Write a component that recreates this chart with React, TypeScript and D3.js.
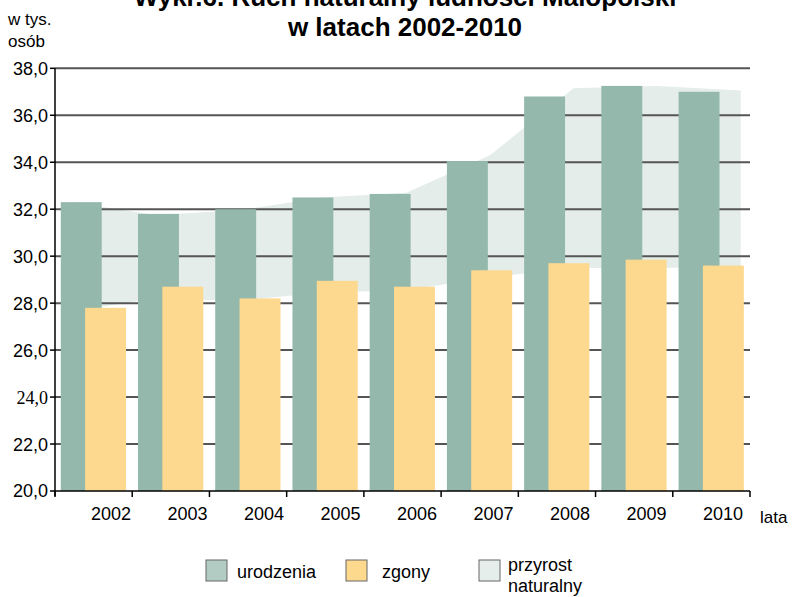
import * as d3 from 'd3'

// data (thousands of people)
const years = ['2002', '2003', '2004', '2005', '2006', '2007', '2008', '2009', '2010']
const births = [32.3, 31.8, 32.0, 32.5, 32.65, 34.05, 36.8, 37.25, 37.0]
const deaths = [27.8, 28.7, 28.2, 28.95, 28.7, 29.4, 29.7, 29.85, 29.6]
// the shaded "przyrost naturalny" band is a separate, slightly smoothed shape
const growthTop = [32.3, 31.75, 31.95, 32.5, 32.7, 34.3, 37.15, 37.25, 37.05]
const growthBottom = [27.65, 28.2, 28.1, 28.45, 28.55, 29.1, 29.5, 29.5, 29.55]
const yTickValues = [20, 22, 24, 26, 28, 30, 32, 34, 36, 38]

const legendItems = [
  { label: ['urodzenia'], fill: '#b2ccc3' },
  { label: ['zgony'], fill: '#fdd98d' },
  { label: ['przyrost', 'naturalny'], fill: '#e5eeea' },
]

const font = '"Liberation Sans", Arial, sans-serif'

export default function App() {
  const width = 794
  const height = 597
  const plot = { left: 55, right: 750, top: 68.3, bottom: 491 }

  const y = d3.scaleLinear().domain([20, 38]).range([plot.bottom, plot.top])
  const x = d3.scaleBand().domain(years).range([plot.left, plot.right])
  const bw = x.bandwidth()
  const labelX = d3.scalePoint().domain(years).range([111, 723])
  const areaX = d3.scalePoint().domain(years).range([plot.left + 0.22 * bw, plot.right - 0.12 * bw])

  const rows = years.map((yr, i) => ({ yr, top: growthTop[i], bottom: growthBottom[i] }))
  const area = d3
    .area<(typeof rows)[number]>()
    .x((d) => areaX(d.yr)!)
    .y0((d) => y(d.bottom))
    .y1((d) => y(d.top))

  const fmt = (v: number) => v.toFixed(1).replace('.', ',')
  const boundaries = [...years.map((yr) => x(yr)!), plot.right]
  const legendX = [206, 346, 479]

  return (
    <svg
      width={width}
      height={height}
      style={{ position: 'absolute', left: 0, top: 0, background: '#fff' }}
      fontFamily={font}
    >
      {/* title, first line clipped by the top edge */}
      <g fontWeight="bold" fontSize={26} textAnchor="middle" fill="#000">
        <text x={405} y={6}>Wykr.6. Ruch naturalny ludności Małopolski</text>
        <text x={405} y={36}>w latach 2002-2010</text>
      </g>
      <g fontSize={17} fill="#000">
        <text x={8} y={25}>w tys.</text>
        <text x={8} y={47}>osób</text>
      </g>

      <path d={area(rows)!} fill="#e4ede9" />

      <g stroke="#555" strokeWidth={2}>
        {yTickValues.slice(1).map((v) => (
          <line key={v} x1={plot.left} x2={plot.right} y1={y(v)} y2={y(v)} />
        ))}
      </g>

      <g>
        {years.map((yr, i) => (
          <rect
            key={'b' + yr}
            x={x(yr)! + 0.075 * bw}
            width={0.53 * bw}
            y={y(births[i])}
            height={y(20) - y(births[i])}
            fill="#94b9ac"
          />
        ))}
        {years.map((yr, i) => (
          <rect
            key={'d' + yr}
            x={x(yr)! + 0.39 * bw}
            width={0.53 * bw}
            y={y(deaths[i])}
            height={y(20) - y(deaths[i])}
            fill="#fdd98f"
          />
        ))}
      </g>

      {/* y axis */}
      <g stroke="#000" strokeWidth={1.5}>
        <line x1={plot.left} x2={plot.left} y1={plot.top} y2={plot.bottom + 5} />
        {yTickValues.map((v) => (
          <line key={v} x1={plot.left - 5} x2={plot.left} y1={y(v)} y2={y(v)} />
        ))}
      </g>
      <g fontSize={18} textAnchor="end" fill="#000">
        {yTickValues.map((v) => (
          <text
            key={v}
            x={48}
            y={y(v)}
            dy="0.36em"
            fontFamily={v === 24 ? '"Liberation Serif", "Times New Roman", serif' : font}
          >
            {fmt(v)}
          </text>
        ))}
      </g>

      {/* x axis */}
      <g stroke="#000" strokeWidth={1.5}>
        <line x1={plot.left} x2={plot.right} y1={plot.bottom} y2={plot.bottom} />
        {boundaries.map((bx) => (
          <line key={bx} x1={bx} x2={bx} y1={plot.bottom} y2={plot.bottom + 6} />
        ))}
      </g>
      <g fontSize={18} textAnchor="middle" fill="#000">
        {years.map((yr) => (
          <text key={yr} x={labelX(yr)} y={520}>
            {yr}
          </text>
        ))}
      </g>
      <text x={760} y={523} fontSize={17} fill="#000">
        lata
      </text>

      {/* legend */}
      <g fontSize={18} fill="#000">
        {legendItems.map((item, i) => (
          <g key={item.label[0]}>
            <rect x={legendX[i]} y={560} width={21} height={21} fill={item.fill} stroke="#666" strokeWidth={1} />
            {item.label.length === 1 ? (
              <text x={legendX[i] + (i === 1 ? 36 : 31)} y={578}>
                {item.label[0]}
              </text>
            ) : (
              item.label.map((l, j) => (
                <text key={l} x={legendX[i] + 29} y={571 + j * 21}>
                  {l}
                </text>
              ))
            )}
          </g>
        ))}
      </g>
    </svg>
  )
}
